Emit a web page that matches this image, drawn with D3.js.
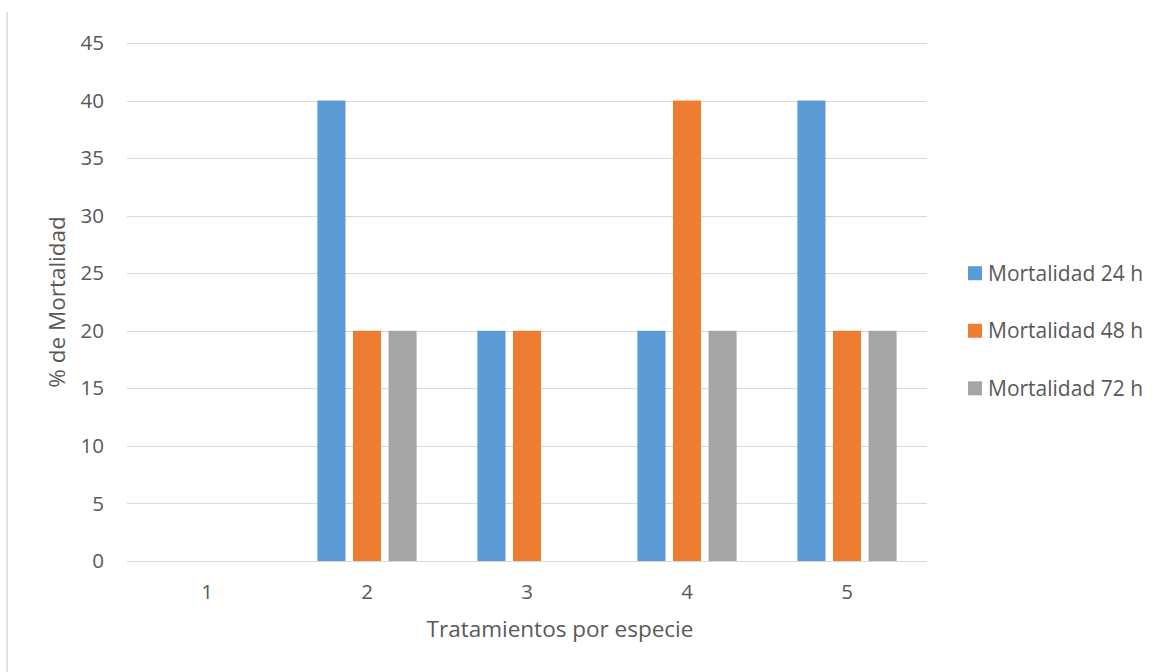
<!DOCTYPE html>
<html>
<head>
<meta charset="utf-8">
<script src="https://cdn.jsdelivr.net/npm/d3@7"></script>
<style>
  html, body { margin: 0; padding: 0; background: #fff; }
  svg { display: block; font-family: "Open Sans", "Noto Sans", sans-serif; }
</style>
</head>
<body>
<svg id="chart" width="1159" height="672"></svg>
<script>
// Treatments (x categories) and mortality series in percent
const categories = ["1", "2", "3", "4", "5"];
const seriesNames = ["Mortalidad 24 h", "Mortalidad 48 h", "Mortalidad 72 h"];
const mort24 = [0, 40, 20, 20, 40];
const mort48 = [0, 20, 20, 40, 20];
const mort72 = [0, 20, 0, 20, 20];
const yTicks = [0, 5, 10, 15, 20, 25, 30, 35, 40, 45];
const colors = ["#5B9BD5", "#ED7D31", "#A5A5A5"];

const seriesValues = [mort24, mort48, mort72];
const rows = categories.map((c, i) => ({
  cat: c,
  values: seriesNames.map((s, k) => ({ series: s, k, value: seriesValues[k][i] }))
}));

const svg = d3.select("#chart");
const textColor = "#595959";
const gridColor = "#d9d9d9";

const plot = { left: 127, right: 927, top: 43, bottom: 561 };

const y = d3.scaleLinear().domain([0, 45]).range([plot.bottom, plot.top]);
const x0 = d3.scaleBand().domain(categories)
  .range([plot.left, plot.right]).paddingInner(0.38).paddingOuter(0.19);
const x1 = d3.scaleBand().domain(seriesNames)
  .range([0, x0.bandwidth()]).paddingInner(0.211).paddingOuter(0);

// chart frame edge on the left
svg.append("line")
  .attr("x1", 7).attr("x2", 7).attr("y1", 12).attr("y2", 672)
  .attr("stroke", gridColor).attr("stroke-width", 1.5);

// horizontal gridlines
svg.append("g").selectAll("line").data(yTicks).join("line")
  .attr("x1", plot.left).attr("x2", plot.right)
  .attr("y1", d => Math.round(y(d)) + 0.5).attr("y2", d => Math.round(y(d)) + 0.5)
  .attr("stroke", gridColor).attr("stroke-width", 1);

// y axis labels
const yAxis = d3.axisLeft(y).tickValues(yTicks).tickSize(0).tickPadding(0);
const gy = svg.append("g").attr("transform", `translate(${plot.left - 23},0)`).call(yAxis);
gy.select(".domain").remove();
gy.selectAll("text").attr("fill", textColor).style("font-size", "20.5px")
  .style("font-family", "'Open Sans', sans-serif");

// x axis labels
const xAxis = d3.axisBottom(x0).tickSize(0).tickPadding(0);
const gx = svg.append("g").attr("transform", `translate(0,${plot.bottom + 23})`).call(xAxis);
gx.select(".domain").remove();
gx.selectAll("text").attr("fill", textColor).style("font-size", "20.5px")
  .style("font-family", "'Open Sans', sans-serif");

// bars
svg.append("g").selectAll("g").data(rows).join("g")
  .attr("transform", d => `translate(${x0(d.cat)},0)`)
  .selectAll("rect").data(d => d.values.filter(v => v.value > 0)).join("rect")
  .attr("x", d => x1(d.series))
  .attr("width", x1.bandwidth())
  .attr("y", d => y(d.value))
  .attr("height", d => y(0) - y(d.value))
  .attr("fill", d => colors[d.k]);

// axis titles
svg.append("text")
  .attr("x", 560).attr("y", 637)
  .attr("text-anchor", "middle").attr("fill", textColor)
  .style("font-size", "22.5px")
  .text("Tratamientos por especie");

svg.append("text")
  .attr("transform", `translate(65,${(plot.top + plot.bottom) / 2}) rotate(-90)`)
  .attr("text-anchor", "middle").attr("fill", textColor)
  .style("font-size", "22.5px")
  .text("% de Mortalidad");

// legend
const legend = svg.append("g").selectAll("g").data(seriesNames).join("g")
  .attr("transform", (d, i) => `translate(968,${y(25) + i * (y(20) - y(25))})`);
legend.append("rect")
  .attr("x", 0).attr("y", -7).attr("width", 14).attr("height", 14)
  .attr("fill", (d, i) => colors[i]);
legend.append("text")
  .attr("x", 20).attr("y", 0).attr("dy", "0.35em")
  .attr("fill", textColor).style("font-size", "21px")
  .text(d => d);
</script>
</body>
</html>
